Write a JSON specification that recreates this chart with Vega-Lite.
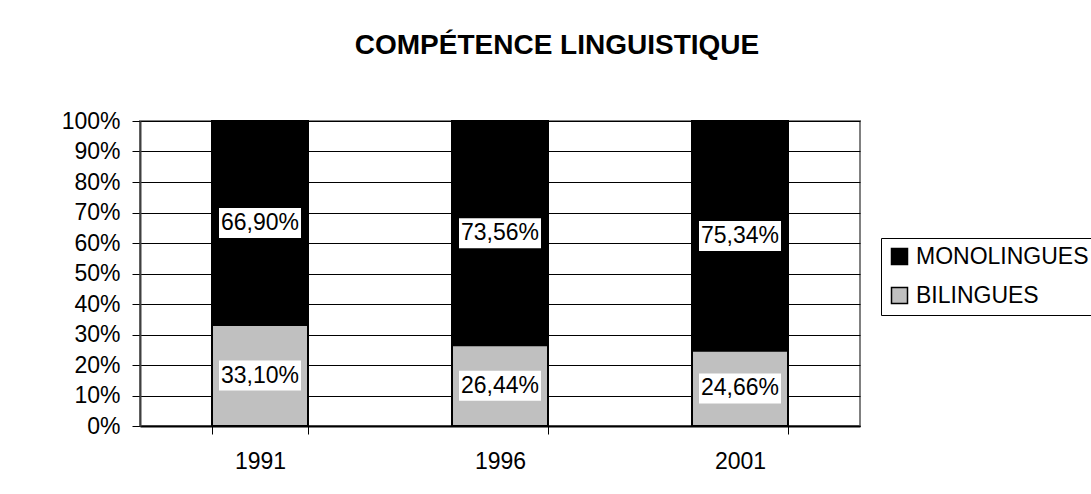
{
  "$schema": "https://vega.github.io/schema/vega-lite/v6.json",
  "width": 720,
  "height": 305,
  "autosize": {"type": "none"},
  "padding": {"left": 140, "top": 121, "right": 231, "bottom": 68},
  "background": "white",
  "title": {
    "text": "COMPÉTENCE LINGUISTIQUE",
    "font": "Liberation Sans",
    "fontSize": 28,
    "fontWeight": "bold",
    "color": "black",
    "anchor": "middle",
    "dx": 57,
    "offset": 50
  },
  "data": {
    "values": [
      {"year": "1991", "group": "MONOLINGUES", "share": 0.669},
      {"year": "1991", "group": "BILINGUES", "share": 0.331},
      {"year": "1996", "group": "MONOLINGUES", "share": 0.7356},
      {"year": "1996", "group": "BILINGUES", "share": 0.2644},
      {"year": "2001", "group": "MONOLINGUES", "share": 0.7534},
      {"year": "2001", "group": "BILINGUES", "share": 0.2466}
    ]
  },
  "transform": [
    {"stack": "share", "groupby": ["year"], "sort": [{"field": "group", "order": "ascending"}], "as": ["lo", "hi"]},
    {"calculate": "(datum.lo + datum.hi) / 2", "as": "mid"}
  ],
  "encoding": {
    "x": {
      "field": "year",
      "type": "nominal",
      "scale": {"paddingInner": 0.6, "paddingOuter": 0.3},
      "axis": {
        "title": null,
        "labelAngle": 0,
        "tickBand": "extent",
        "tickSize": 8,
        "tickColor": "black",
        "tickWidth": 1,
        "domainColor": "black",
        "domainWidth": 2,
        "labelFont": "Liberation Sans",
        "labelFontSize": 23,
        "labelColor": "black",
        "labelPadding": 16,
        "grid": false
      }
    }
  },
  "layer": [
    {
      "mark": {"type": "bar", "stroke": "black", "strokeWidth": 2},
      "encoding": {
        "y": {
          "field": "lo",
          "type": "quantitative",
          "scale": {"domain": [0, 1]},
          "axis": {
            "title": null,
            "values": [0, 0.1, 0.2, 0.3, 0.4, 0.5, 0.6, 0.7, 0.8, 0.9, 1],
            "tickCount": 11,
            "format": ".0%",
            "labelOverlap": false,
            "grid": true,
            "gridColor": "black",
            "gridWidth": 1,
            "gridOpacity": 1,
            "domainColor": "#404040",
            "domainWidth": 2,
            "tickColor": "black",
            "tickSize": 8,
            "tickWidth": 1,
            "labelFont": "Liberation Sans",
            "labelFontSize": 23,
            "labelColor": "black",
            "labelPadding": 12
          }
        },
        "y2": {"field": "hi"},
        "color": {
          "field": "group",
          "type": "nominal",
          "scale": {"domain": ["MONOLINGUES", "BILINGUES"], "range": ["#000000", "#C0C0C0"]},
          "legend": {
            "title": null,
            "orient": "none",
            "legendX": 741,
            "legendY": 117,
            "strokeColor": "black",
            "padding": 7,
            "symbolType": "square",
            "symbolSize": 256,
            "symbolStrokeColor": "black",
            "symbolStrokeWidth": 1.5,
            "symbolOpacity": 1,
            "labelFont": "Liberation Sans",
            "labelFontSize": 23,
            "labelColor": "black",
            "labelOffset": 5,
            "labelLimit": 400,
            "rowPadding": 15
          }
        }
      }
    },
    {
      "mark": {"type": "tick", "color": "white", "opacity": 1, "size": 82, "thickness": 30, "orient": "horizontal"},
      "encoding": {
        "y": {
          "field": "mid",
          "type": "quantitative",
          "axis": {
            "title": null,
            "values": [0, 0.1, 0.2, 0.3, 0.4, 0.5, 0.6, 0.7, 0.8, 0.9, 1],
            "tickCount": 11,
            "format": ".0%",
            "labelOverlap": false,
            "grid": true,
            "gridColor": "black",
            "gridWidth": 1,
            "gridOpacity": 1,
            "domainColor": "#404040",
            "domainWidth": 2,
            "tickColor": "black",
            "tickSize": 8,
            "tickWidth": 1,
            "labelFont": "Liberation Sans",
            "labelFontSize": 23,
            "labelColor": "black",
            "labelPadding": 12
          }
        }
      }
    },
    {
      "mark": {"type": "text", "font": "Liberation Sans", "fontSize": 23, "color": "black"},
      "encoding": {
        "y": {
          "field": "mid",
          "type": "quantitative",
          "axis": {
            "title": null,
            "values": [0, 0.1, 0.2, 0.3, 0.4, 0.5, 0.6, 0.7, 0.8, 0.9, 1],
            "tickCount": 11,
            "format": ".0%",
            "labelOverlap": false,
            "grid": true,
            "gridColor": "black",
            "gridWidth": 1,
            "gridOpacity": 1,
            "domainColor": "#404040",
            "domainWidth": 2,
            "tickColor": "black",
            "tickSize": 8,
            "tickWidth": 1,
            "labelFont": "Liberation Sans",
            "labelFontSize": 23,
            "labelColor": "black",
            "labelPadding": 12
          }
        },
        "text": {"field": "share", "type": "quantitative", "format": ".2%"}
      }
    }
  ],
  "config": {
    "locale": {"number": {"decimal": ",", "thousands": " ", "grouping": [3], "currency": ["", " €"], "percent": "%"}},
    "view": {"stroke": "#808080", "strokeWidth": 2},
    "legend": {"strokeWidth": 1}
  }
}
